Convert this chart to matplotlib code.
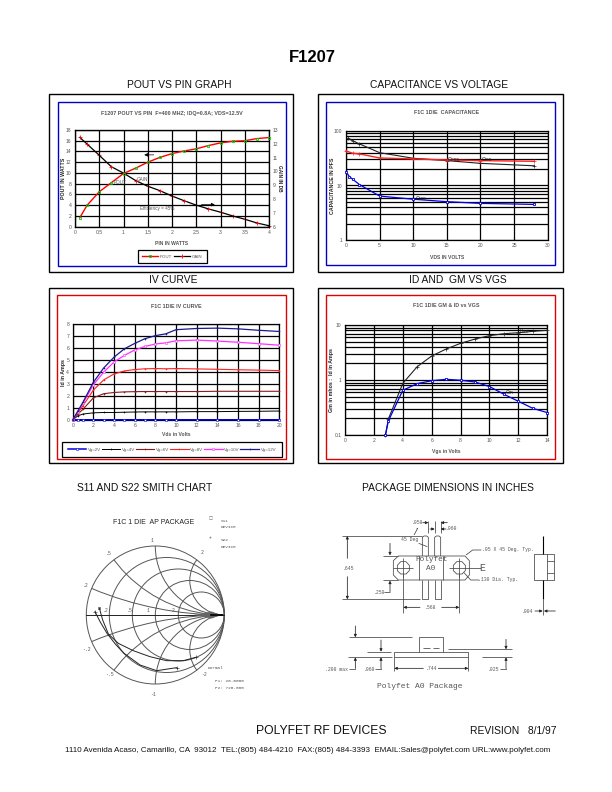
import matplotlib
matplotlib.use("Agg")
import matplotlib.pyplot as plt
from matplotlib.patches import Rectangle, Circle, Polygon
from matplotlib.ticker import NullFormatter, FixedLocator, FixedFormatter

W, H = 612, 792
plt.rcParams['font.family'] = ['Liberation Sans', 'DejaVu Sans']
GR = '#555555'

# ---------- data ----------
pin = [0.1, 0.25, 0.5, 0.75, 1, 1.25, 1.5, 1.75, 2, 2.25, 2.5, 2.75, 3, 3.25, 3.5, 3.75, 4]
pout = [1.7, 4, 6.5, 8.2, 9.9, 10.9, 12, 12.9, 13.6, 14.1, 14.5, 15.1, 15.6, 15.9, 16, 16.4, 16.6]
gain = [12.46, 11.98, 11.17, 10.34, 9.88, 9.34, 8.93, 8.61, 8.22, 7.88, 7.56, 7.29, 7.05, 6.78, 6.54, 6.27, 6.07]

vds_black = [0.3, 1, 2, 5, 10, 15, 20, 28]
ciss = [73, 66, 58, 40, 31.6, 28.6, 25.5, 23]
vds_red = [0, 1, 2, 5, 10, 15, 20, 28]
coss = [43, 39, 38, 32, 30.7, 29.4, 28.6, 27.8]
vds_blue = [0, 0.5, 1, 2, 5, 10, 15, 20, 28]
crss = [18, 14.6, 13, 10.4, 6.4, 5.6, 5.05, 4.7, 4.5]

vds_iv = [0, .5, 1, 2, 3, 4, 5, 6, 7, 8, 9, 10, 12, 14, 16, 18, 20]
vg2 = [0, .02, .02, .02, .02, .02, .02, .02, .02, .02, .02, .02, .02, .02, .02, .02, .02]
vg4 = [0, .35, .5, .6, .63, .63, .65, .67, .68, .68, .68, .68, .7, .7, .72, .73, .75]
vg6 = [0, .5, .9, 1.85, 2.2, 2.3, 2.35, 2.37, 2.38, 2.38, 2.38, 2.38, 2.38, 2.4, 2.4, 2.4, 2.4]
vg8 = [0, .6, 1.2, 2.5, 3.35, 3.85, 4.1, 4.22, 4.28, 4.3, 4.28, 4.3, 4.27, 4.24, 4.2, 4.17, 4.13]
vg10 = [0, .7, 1.4, 2.95, 4, 4.85, 5.4, 5.85, 6.15, 6.35, 6.45, 6.62, 6.68, 6.6, 6.5, 6.38, 6.25]
vg12 = [0, .75, 1.5, 3.15, 4.35, 5.25, 5.95, 6.4, 6.8, 7.05, 7.2, 7.55, 7.65, 7.68, 7.62, 7.5, 7.4]

vgs = [2.8, 3, 4, 5, 6, 7, 8, 9, 10, 11, 12, 13, 14]
idss = [.1, .195, .87, 1.75, 2.73, 3.66, 4.64, 5.56, 6.4, 6.95, 7.25, 7.67, 8.0]
gm = [.1, .18, .65, .86, .97, 1.03, .99, .92, .76, .55, .41, .305, .255]

s11_re = [-.81, -.763, -.68, -.536, -.319, -.077, .164, .406, .585]
s11_im = [.097, -.072, -.275, -.411, -.517, -.604, -.662, -.662, -.614]
s22_re = [-.874, -.80, -.70, -.58, -.46, -.22, .02, .31]
s22_im = [.048, -.097, -.266, -.42, -.55, -.725, -.807, -.763]

smith_r = [.2, .5, 1, 2]
smith_x = [.2, .5, 1, 2]

fig = plt.figure(figsize=(W / 100, H / 100), dpi=100, facecolor='white')


def box(x0, y0, x1, y1):
    return [x0 / W, 1 - y1 / H, (x1 - x0) / W, (y1 - y0) / H]


page = fig.add_axes([0, 0, 1, 1], zorder=0)
page.set_xlim(0, W)
page.set_ylim(H, 0)
page.axis('off')


def frame(x0, y0, x1, y1, color, lw=1.0):
    page.add_patch(Rectangle((x0, y0), x1 - x0, y1 - y0, fill=False, ec=color, lw=lw))


def style(ax, xticks, xlabels, title, xlabel, ylabel, xlp=3, ylp=2, tp=14):
    ax.set_facecolor('none')
    ax.set_xticks(xticks)
    ax.set_xticklabels(xlabels)
    ax.grid(True, which='major', color='black', lw=0.9)
    ax.set_axisbelow(False)
    ax.tick_params(which='both', length=0, labelsize=3.6, labelcolor=GR, pad=2.5)
    for s in ax.spines.values():
        s.set_linewidth(0.9)
    ax.set_title(title, fontsize=3.9, fontweight='bold', color=GR, pad=tp)
    ax.set_xlabel(xlabel, fontsize=3.6, fontweight='bold', color=GR, labelpad=xlp)
    ax.set_ylabel(ylabel, fontsize=3.8, fontweight='bold', color='#222222', labelpad=ylp)


# ---------- header / footer ----------
page.text(312, 58, 'F1207', fontsize=12, fontweight='bold', ha='center', va='center')
for x, y, s in [(178.8, 85, 'POUT VS PIN GRAPH'), (439, 85, 'CAPACITANCE VS VOLTAGE'),
                (173, 280, 'IV CURVE'), (458, 280, 'ID AND  GM VS VGS'),
                (145, 488, 'S11 AND S22 SMITH CHART'), (448, 488, 'PACKAGE DIMENSIONS IN INCHES')]:
    page.text(x, y, s, fontsize=7.4, ha='center', va='center', color='#111111')
page.text(321.5, 731, 'POLYFET RF DEVICES', fontsize=8.7, ha='center', va='center', color='#111111')
page.text(557, 731, 'REVISION   8/1/97', fontsize=7.4, ha='right', va='center', color='#111111')
page.text(308, 751, '1110 Avenida Acaso, Camarillo, CA  93012  TEL:(805) 484-4210  FAX:(805) 484-3393  '
          'EMAIL:Sales@polyfet.com URL:www.polyfet.com', fontsize=5.8, ha='center', va='center', color='#111111')

frame(49.3, 94.3, 293, 272, 'black')
frame(57.7, 101.7, 285.7, 265.7, '#0000cc')
frame(318.3, 94.3, 562.7, 271.7, 'black')
frame(326, 101.7, 555, 265, '#0000cc')
frame(49.3, 288.3, 293.3, 463, 'black')
frame(57.3, 295, 285.7, 459, '#e00000')
frame(318.3, 288.3, 562.7, 463, 'black')
frame(326, 295, 555, 459, '#e00000')

# ---------- POUT vs PIN ----------
ax = fig.add_axes(box(75, 130, 269, 226.7), zorder=3)
ax.set_xlim(0, 4)
ax.set_ylim(0, 18)
ax.set_yticks(range(0, 19, 2))
style(ax, [0, .5, 1, 1.5, 2, 2.5, 3, 3.5, 4], ['0', '0.5', '1', '1.5', '2', '2.5', '3', '3.5', '4'],
      'F1207 POUT VS PIN  F=400 MHZ; IDQ=0.8A; VDS=12.5V', 'PIN IN WATTS', 'POUT IN WATTS', xlp=4.5, ylp=0, tp=11)
ax2 = ax.twinx()
ax2.set_zorder(2)
ax2.set_facecolor('none')
ax2.set_ylim(6, 13)
ax2.set_yticks(range(6, 14))
ax2.tick_params(length=0, labelsize=3.6, labelcolor=GR, pad=2.5)
ax2.set_ylabel('GAIN IN DB', fontsize=3.4, fontweight='bold', color='#222222', rotation=270, labelpad=2.5)
l2, = ax2.plot(pin, gain, color='black', lw=0.9, marker='+', ms=2.4, mec='#ff0000', mew=0.6,
               label='GAIN', clip_on=False, zorder=5)
l1, = ax.plot(pin, pout, color='#ff0000', lw=1.0, marker='s', ms=2.0, mfc='none',
              mec='#00cc00', mew=0.6, label='POUT', clip_on=False, zorder=6)
ax2.annotate('', xy=(1.37, 11.2), xytext=(1.68, 11.2),
             arrowprops=dict(arrowstyle='-|>', color='black', lw=0.5, mutation_scale=5))
ax2.annotate('', xy=(2.94, 7.6), xytext=(2.55, 7.6),
             arrowprops=dict(arrowstyle='-|>', color='black', lw=0.5, mutation_scale=5))
ax.text(.79, 8.2, 'POUT', fontsize=3.3, color=GR, va='center', zorder=7)
ax.text(1.28, 8.8, 'GAIN', fontsize=3.3, color=GR, va='center', zorder=7)
ax.text(1.34, 3.3, 'Efficiency = 45%', fontsize=3.3, color=GR, va='center', zorder=7)
leg = ax.legend(handles=[l1, l2], ncol=2, loc='center', bbox_to_anchor=(172.2 / W, 1 - 256.7 / H),
                bbox_transform=fig.transFigure, fontsize=3.2, frameon=True, fancybox=False, edgecolor='black',
                framealpha=1, columnspacing=0.6, handlelength=3.6, handletextpad=0.3, borderpad=1.0)
leg.get_frame().set_linewidth(0.9)
for t in leg.get_texts():
    t.set_color(GR)

# ---------- capacitance ----------
ax = fig.add_axes(box(346, 131, 547.7, 240), zorder=2)
ax.set_yscale('log')
ax.set_xlim(0, 30)
ax.set_ylim(1, 100)
ax.yaxis.set_major_locator(FixedLocator([1, 10, 100]))
ax.yaxis.set_major_formatter(FixedFormatter(['1', '10', '100']))
ax.yaxis.set_minor_locator(FixedLocator([m * d for d in (1, 10) for m in range(2, 10)]))
ax.yaxis.set_minor_formatter(NullFormatter())
style(ax, list(range(0, 31, 5)), [str(v) for v in range(0, 31, 5)], 'F1C 1DIE  CAPACITANCE', 'VDS IN VOLTS',
      'CAPACITANCE IN PFS', xlp=4.4, ylp=-0.7, tp=12)
ax.grid(True, which='minor', axis='y', color='black', lw=0.9)
ax.plot(vds_black, ciss, color='#222222', lw=0.8, marker='+', ms=2.4, mew=0.5, clip_on=False, zorder=5)
ax.plot(vds_red, coss, color='#ff2020', lw=1.0, marker='+', ms=2.4, mew=0.5, clip_on=False, zorder=5)
ax.plot(vds_blue, crss, color='#0000e0', lw=0.9, marker='s', ms=1.7, mfc='white', mew=0.6, clip_on=False, zorder=5)
ax.text(15.2, 30, 'Coss', fontsize=3.8, color='#222222', va='center', zorder=6)
ax.text(20.2, 30.5, 'Ciss', fontsize=3.8, color='#222222', va='center', zorder=6)
ax.text(10.3, 5.75, 'Crss', fontsize=3.8, color='#222222', va='center', zorder=6)

# ---------- IV curve ----------
ax = fig.add_axes(box(72.7, 324.3, 279.3, 420), zorder=2)
ax.set_xlim(0, 20)
ax.set_ylim(0, 8)
ax.set_yticks(range(0, 9))
style(ax, list(range(0, 21, 2)), [str(v) for v in range(0, 21, 2)], 'F1C 1DIE IV CURVE', 'Vds in Volts',
      'Id in Amps', xlp=2.5, ylp=0.5, tp=11.5)
series = [(vg2, 'Vg=2V', '#0000e0', 's', 1.1), (vg4, 'Vg=4V', 'black', '+', .7), (vg6, 'Vg=6V', '#8b1a1a', '+', .8),
          (vg8, 'Vg=8V', '#ff2020', '+', .8), (vg10, 'Vg=10V', '#ff30ff', 's', .9), (vg12, 'Vg=12V', '#1a1a90', '+', .9)]
for vals, name, col, mk, lw in series:
    ax.plot(vds_iv, vals, color=col, lw=lw, marker=mk, ms=1.4 if mk == 's' else 1.8, mfc='white', mew=0.4,
            label=name, clip_on=False, zorder=5)
leg = ax.legend(ncol=6, loc='center', bbox_to_anchor=(62.3 / W, 1 - 456.7 / H, 219.4 / W, 14.4 / H),
                bbox_transform=fig.transFigure, mode='expand', fontsize=3.2, frameon=True, fancybox=False,
                edgecolor='black', framealpha=1, handlelength=4.2, handletextpad=0.4, columnspacing=0.8,
                borderpad=1.2, borderaxespad=0)
leg.get_frame().set_linewidth(0.9)
for t in leg.get_texts():
    t.set_color(GR)

# ---------- GM & ID ----------
ax = fig.add_axes(box(345, 325, 547.3, 435), zorder=2)
ax.set_yscale('log')
ax.set_xlim(0, 14)
ax.set_ylim(.1, 10)
ax.yaxis.set_major_locator(FixedLocator([.1, 1, 10]))
ax.yaxis.set_major_formatter(FixedFormatter(['0.1', '1', '10']))
ax.yaxis.set_minor_locator(FixedLocator([m * d for d in (.1, 1) for m in range(2, 10)]))
ax.yaxis.set_minor_formatter(NullFormatter())
style(ax, list(range(0, 15, 2)), [str(v) for v in range(0, 15, 2)], 'F1C 1DIE GM & ID vs VGS', 'Vgs in Volts',
      'Gm in mhos :  Id in Amps', xlp=4.2, ylp=0.5, tp=12.8)
ax.grid(True, which='minor', axis='y', color='black', lw=0.9)
ax.plot(vgs, idss, color='#222222', lw=0.8, marker='+', ms=2.4, mew=0.5, clip_on=False, zorder=5)
ax.plot(vgs, gm, color='#0000e0', lw=0.9, marker='s', ms=1.7, mfc='white', mew=0.6, clip_on=False, zorder=5)
ax.text(12.1, 7.7, 'Idss', fontsize=3.4, color='#222222', va='center', zorder=6)
ax.text(11.1, .6, 'Gm', fontsize=3.4, color='#222222', va='center', zorder=6)

# ---------- Smith chart ----------
SC = 69.0
cx, cy = 155.3, 615.0
ax = fig.add_axes(box(50, 500, 290, 710), zorder=2)
ax.set_xlim((50 - cx) / SC, (290 - cx) / SC)
ax.set_ylim((cy - 710) / SC, (cy - 500) / SC)
ax.axis('off')
GL = '#555555'
unit = Circle((0, 0), 1, fill=False, ec=GL, lw=0.7)
ax.add_patch(unit)
for r in smith_r:
    ax.add_patch(Circle((r / (1 + r), 0), 1 / (1 + r), fill=False, ec=GL, lw=0.7))
for x in smith_x:
    for sgn in (1, -1):
        c = Circle((1, sgn / x), 1 / x, fill=False, ec=GL, lw=0.7)
        ax.add_patch(c)
        c.set_clip_path(unit)
ax.plot([-1, 1], [0, 0], color='#222222', lw=0.7)
ax.add_patch(Polygon([(.55, 0), (.82, .05), (.95, 0), (.82, -.05)], closed=True, fc='#666666', ec='none', zorder=3))
ax.plot([.8, .97], [0, 0], color='black', lw=1.2, zorder=4)
ax.plot(s11_re, s11_im, color='#222222', lw=0.7)
ax.plot(s22_re, s22_im, color='#222222', lw=0.7)
ax.plot(s11_re[0], s11_im[0], 's', ms=1.8, mfc='none', mec='#222222', mew=.4)
ax.plot(s11_re[-1], s11_im[-1], '+', ms=2.4, color='#222222', mew=.4)
ax.plot(s22_re[0], s22_im[0], '+', ms=2.4, color='#222222', mew=.4)
ax.plot(s22_re[-1], s22_im[-1], '+', ms=2.4, color='#222222', mew=.4)
for px, py, s in [(305, 120, '1'), (175, 160, '.5'), (108, 257, '.2'), (457, 158, '2'), (110, 448, '-.2'),
                  (178, 523, '-.5'), (310, 583, '-1'), (462, 523, '-2'), (167, 331, '.2'), (240, 331, '.5'),
                  (295, 331, '1'), (370, 331, '2')]:
    page.text(50 + px / 3, 500 + py / 3, s, fontsize=3.4, family='Liberation Mono', ha='center', va='center', color=GR)
page.text(50 + 312 / 3, 500 + 68 / 3, 'F1C 1 DIE  AP PACKAGE', fontsize=5.0, ha='center', va='center', color='#222222')
page.text(50 + 481 / 3, 500 + 55 / 3, '\u25a1', fontsize=3, ha='center', va='center', color=GR, family='DejaVu Sans')
page.text(50 + 481 / 3, 500 + 113 / 3, '+', fontsize=3.6, ha='center', va='center', color=GR)
for py, s in [(62, 'S11'), (81, 'DEVICE'), (120, 'S22'), (140, 'DEVICE'), (505, 'Normal')]:
    px = 472 if s == 'Normal' else 511
    page.text(50 + px / 3, 500 + py / 3, s, fontsize=3.2, family='Liberation Mono', va='center', color=GR)
page.text(50 + 494 / 3, 500 + 543 / 3, 'F1: 20.0000', fontsize=3.2, family='Liberation Mono', va='center', color=GR)
page.text(50 + 494 / 3, 500 + 563 / 3, 'F2: 720.000', fontsize=3.2, family='Liberation Mono', va='center', color=GR)

# ---------- package drawing ----------
pk = fig.add_axes(box(320, 500, 570, 710), zorder=2)
pk.set_xlim(0, 750)
pk.set_ylim(630, 0)
pk.axis('off')
LC = '#444444'
LW = 0.55


def seg(*pts, **kw):
    xs = [p[0] for p in pts]
    ys = [p[1] for p in pts]
    pk.plot(xs, ys, color=kw.get('color', LC), lw=kw.get('lw', LW), solid_capstyle='butt')


def arrow(tip, tail):
    pk.annotate('', xy=tip, xytext=tail, arrowprops=dict(arrowstyle='-|>', color='#222222', lw=LW, mutation_scale=4,
                                                         shrinkA=0, shrinkB=0))


def lab(x, y, s, fs=3.4, **kw):
    pk.text(x, y, s, fontsize=fs, family='Liberation Mono', ha=kw.get('ha', 'center'), va='center', color=GR,
            bbox=dict(fc='white', ec='none', pad=0.3) if kw.get('bg') else None)


# flange top view
seg((235, 168), (435, 168), (448, 182), (448, 225), (435, 240), (235, 240), (220, 225), (220, 182), (235, 168))
seg((298, 168), (298, 240))
seg((370, 168), (370, 240))
for hx in (250, 418):
    pk.add_patch(Polygon([(hx - 8, 185), (hx + 8, 185), (hx + 18, 196), (hx + 18, 212), (hx + 8, 222), (hx - 8, 222),
                          (hx - 18, 212), (hx - 18, 196)], closed=True, fill=False, ec=LC, lw=LW))
    seg((hx - 30, 203), (hx + 30, 203))
    seg((hx, 175), (hx, 232))
seg((448, 203), (482, 203))
# leads
for lx in (307, 344):
    seg((lx, 168), (lx, 112), (lx + 5, 108), (lx + 13, 108), (lx + 18, 112), (lx + 18, 168))
    seg((lx, 240), (lx, 298), (lx + 18, 298), (lx + 18, 240))
# dims top view
seg((65, 108), (307, 108))
seg((65, 298), (300, 298))
arrow((82, 108), (82, 175))
arrow((82, 298), (82, 230))
lab(85, 204, '.645', bg=True)
seg((190, 168), (235, 168))
seg((190, 240), (235, 240))
arrow((210, 166), (210, 130))
arrow((210, 242), (210, 275))
seg((210, 275), (192, 275))
lab(178, 276, '.250')
seg((250, 222), (250, 338))
seg((418, 222), (418, 338))
arrow((250, 322), (300, 322))
arrow((418, 322), (365, 322))
lab(333, 322, '.568')
seg((325, 62), (325, 100))
seg((344, 62), (344, 100))
seg((362, 62), (362, 100))
arrow((325, 68), (308, 68))
seg((282, 105), (293, 85), (290, 85))
lab(292, 68, '.058')
arrow((344, 87), (330, 87))
arrow((362, 87), (378, 87))
arrow((362, 68), (382, 68))
lab(395, 87, '.060')
lab(268, 120, '45 Deg')
seg((296, 130), (322, 140))
lab(335, 178, 'Polyfet', fs=5.6)
lab(332, 205, 'A0', fs=5.6)
lab(488, 203, 'E', fs=7)
seg((438, 165), (458, 150), (484, 150))
lab(565, 150, '.05 X 45 Deg. Typ.')
seg((432, 218), (452, 240), (478, 240))
lab(533, 240, '.130 Dia. Typ.')
# side view
seg((643, 163), (703, 163), (703, 240), (643, 240), (643, 163))
seg((682, 163), (682, 240))
seg((682, 183), (703, 183))
seg((682, 220), (703, 220))
seg((670, 108), (670, 163), color='black', lw=0.8)
seg((670, 240), (670, 298), color='black', lw=0.8)
seg((670, 298), (670, 345), color=LC)
arrow((668, 333), (645, 333))
arrow((672, 333), (706, 333))
lab(622, 335, '.004')
# bottom view
seg((223, 455), (445, 455), (445, 472), (223, 472), (223, 455))
seg((298, 455), (298, 412), (370, 412), (370, 455))
seg((310, 445), (330, 445))
seg((340, 445), (358, 445))
seg((88, 412), (275, 412))
seg((140, 455), (213, 455))
seg((85, 472), (215, 472))
seg((385, 448), (577, 448))
seg((485, 472), (577, 472))
arrow((106, 412), (106, 378))
arrow((106, 472), (106, 505))
seg((86, 508), (106, 508), (106, 505))
arrow((183, 455), (183, 420))
arrow((183, 472), (183, 505))
seg((165, 508), (183, 508), (183, 505))
seg((223, 472), (223, 512))
seg((445, 472), (445, 512))
arrow((223, 505), (310, 505))
arrow((445, 505), (355, 505))
lab(335, 505, '.744')
arrow((558, 448), (558, 418))
arrow((558, 472), (558, 505))
seg((540, 508), (558, 508), (558, 505))
lab(50, 508, '.200 max')
lab(150, 508, '.060')
lab(522, 508, '.025')
lab(300, 558, 'Polyfet A0 Package', fs=5.8)

fig.savefig('out.png', dpi=100)
